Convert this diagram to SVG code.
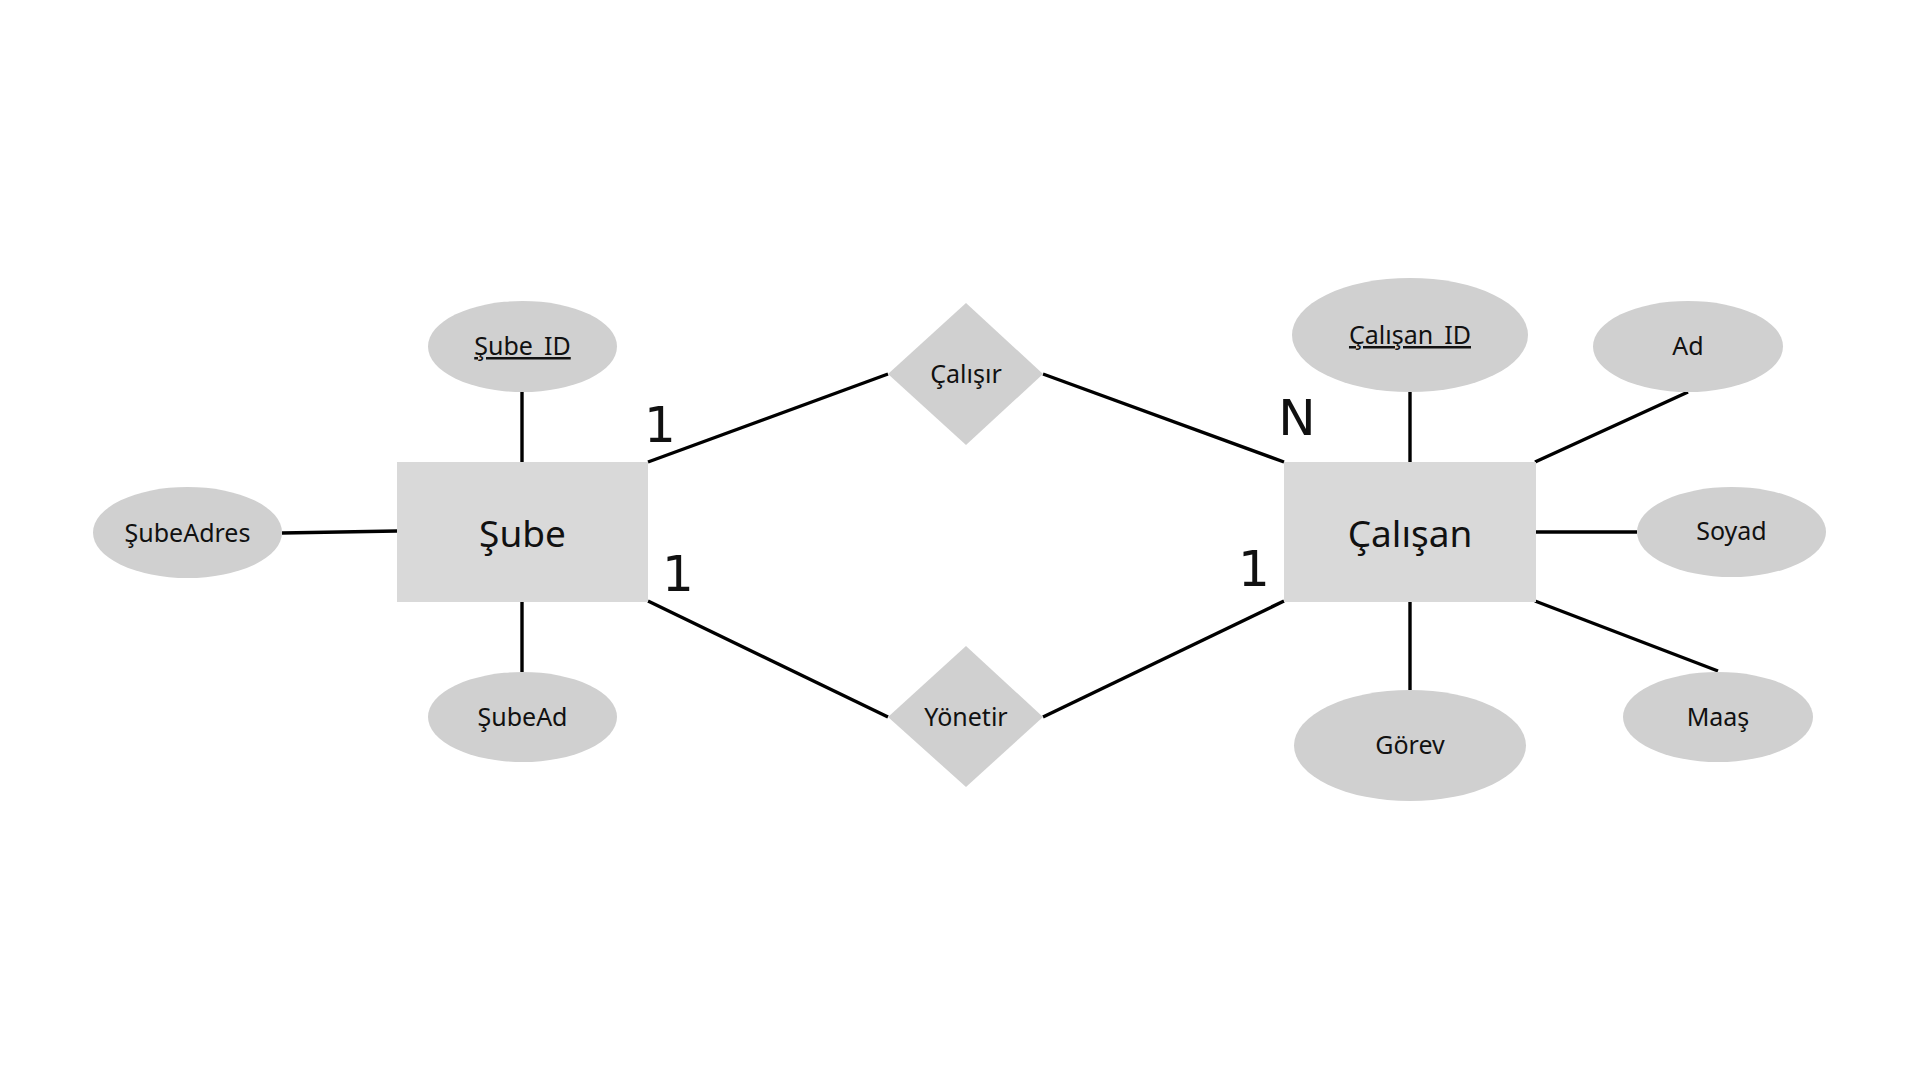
<svg xmlns="http://www.w3.org/2000/svg" width="1920" height="1080" viewBox="0 0 1920 1080">
  <style>
    .ent { fill: #d9d9d9; }
    .attr { fill: #d0d0d0; }
    .rel { fill: #d0d0d0; }
    .lbl { font-family: "Noto Sans", "Open Sans", "DejaVu Sans", sans-serif; font-size: 25px; fill: #111; text-anchor: middle; }
    .elbl { font-family: "Noto Sans", "Open Sans", "DejaVu Sans", sans-serif; font-size: 37px; fill: #111; text-anchor: middle; }
    .card { font-family: "DejaVu Sans", "Liberation Sans", sans-serif; font-size: 50px; fill: #111; text-anchor: middle; }
    .conn line { stroke: #000; stroke-width: 3.4; stroke-linecap: butt; }
  </style>
  <rect width="1920" height="1080" fill="#ffffff"/>

  <g id="connectors" class="conn">
    <line x1="522" y1="392" x2="522" y2="462"/>
    <line x1="282" y1="533" x2="397" y2="531"/>
    <line x1="522" y1="601" x2="522" y2="672"/>
    <line x1="648" y1="462" x2="888" y2="374"/>
    <line x1="1043" y1="374" x2="1284" y2="462"/>
    <line x1="648" y1="601" x2="888" y2="717"/>
    <line x1="1043" y1="717" x2="1284" y2="601"/>
    <line x1="1410" y1="392" x2="1410" y2="462"/>
    <line x1="1535" y1="462" x2="1688" y2="392"/>
    <line x1="1535" y1="532" x2="1637" y2="532"/>
    <line x1="1410" y1="602" x2="1410" y2="690"/>
    <line x1="1535" y1="601" x2="1718" y2="671"/>
  </g>

  <g id="sube">
    <rect class="ent" x="397" y="462" width="251" height="140"/>
    <text class="elbl" x="522.5" y="547">Şube</text>
  </g>
  <g id="calisan">
    <rect class="ent" x="1284" y="462" width="252" height="140"/>
    <text class="elbl" x="1410" y="547">Çalışan</text>
  </g>

  <g id="calisir">
    <polygon class="rel" points="966,303 1043,374 966,445 888,374"/>
    <text class="lbl" x="966" y="383">Çalışır</text>
  </g>
  <g id="yonetir">
    <polygon class="rel" points="966,646 1043,717 966,787 888,717"/>
    <text class="lbl" x="966" y="726">Yönetir</text>
  </g>

  <g id="sube_id">
    <ellipse class="attr" cx="522.5" cy="346.5" rx="94.5" ry="45.5"/>
    <text class="lbl" x="522.5" y="355" text-decoration="underline">Şube_ID</text>
  </g>
  <g id="subeadres">
    <ellipse class="attr" cx="187.5" cy="532.5" rx="94.5" ry="45.5"/>
    <text class="lbl" x="187.5" y="542">ŞubeAdres</text>
  </g>
  <g id="subead">
    <ellipse class="attr" cx="522.5" cy="717" rx="94.5" ry="45"/>
    <text class="lbl" x="522.5" y="726">ŞubeAd</text>
  </g>

  <g id="calisan_id">
    <ellipse class="attr" cx="1410" cy="335" rx="118" ry="57"/>
    <text class="lbl" x="1410" y="344" text-decoration="underline">Çalışan_ID</text>
  </g>
  <g id="ad">
    <ellipse class="attr" cx="1688" cy="346.5" rx="95" ry="45.5"/>
    <text class="lbl" x="1688" y="355">Ad</text>
  </g>
  <g id="soyad">
    <ellipse class="attr" cx="1731.5" cy="532" rx="94.5" ry="45"/>
    <text class="lbl" x="1731.5" y="540">Soyad</text>
  </g>
  <g id="gorev">
    <ellipse class="attr" cx="1410" cy="745.5" rx="116" ry="55.5"/>
    <text class="lbl" x="1410" y="754">Görev</text>
  </g>
  <g id="maas">
    <ellipse class="attr" cx="1718" cy="717" rx="95" ry="45"/>
    <text class="lbl" x="1718" y="726">Maaş</text>
  </g>

  <g id="cardinalities">
    <text class="card" x="660" y="442">1</text>
    <text class="card" x="678" y="591">1</text>
    <text class="card" x="1297" y="435">N</text>
    <text class="card" x="1254" y="586">1</text>
  </g>
</svg>
